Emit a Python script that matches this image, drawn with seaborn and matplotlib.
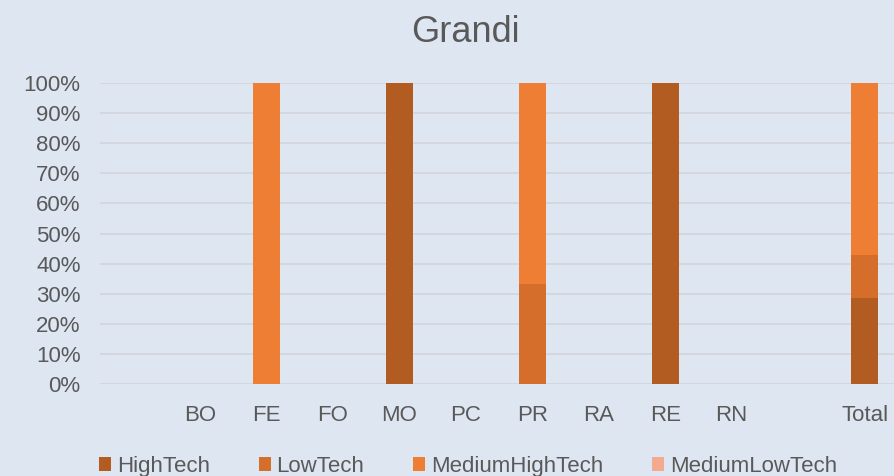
import numpy as np
import pandas as pd
import matplotlib
matplotlib.use("Agg")
import matplotlib.pyplot as plt
import seaborn as sns
from matplotlib.patches import Patch
from matplotlib.ticker import PercentFormatter

# categories ("" and " " are the empty slots in the original chart)
categories = ["", "BO", "FE", "FO", "MO", "PC", "PR", "RA", "RE", "RN", " ", "Total"]
high_tech = [0, 0, 0, 0, 100, 0, 0, 0, 100, 0, 0, 28.57]
low_tech = [0, 0, 0, 0, 0, 0, 33.33, 0, 0, 0, 0, 14.29]
medium_high_tech = [0, 0, 100, 0, 0, 0, 66.67, 0, 0, 0, 0, 57.14]
medium_low_tech = [0, 0, 0, 0, 0, 0, 0, 0, 0, 0, 0, 0]

series_names = ["HighTech", "LowTech", "MediumHighTech", "MediumLowTech"]
series_colors = ["#B35C22", "#D46E2A", "#EE7E33", "#F4AA8E"]

df = pd.DataFrame({"cat": categories,
                   "HighTech": high_tech,
                   "LowTech": low_tech,
                   "MediumHighTech": medium_high_tech,
                   "MediumLowTech": medium_low_tech})

# cumulative tops for stacking
cum = df[series_names].cumsum(axis=1)

bg = "#DEE6F2"
text_col = "#595959"

sns.set_style("white")
plt.rcParams["font.family"] = ["Liberation Sans", "DejaVu Sans"]

fig = plt.figure(figsize=(8.94, 4.76), dpi=100, facecolor=bg)
ax = fig.add_axes([100 / 894, 1 - 384 / 476, 794 / 894, 301 / 476])
ax.set_facecolor(bg)

# draw from the top series down so lower segments overlay upper ones
for name, color in reversed(list(zip(series_names, series_colors))):
    sns.barplot(x=df["cat"], y=cum[name], order=categories, color=color,
                width=0.41, saturation=1, ax=ax, linewidth=0, zorder=3)

ax.set_ylim(0, 100)
ax.set_xlim(-0.5, 11.44)
ax.set_yticks(np.arange(0, 101, 10))
ax.yaxis.set_major_formatter(PercentFormatter(decimals=0))
ax.grid(axis="y", color="#D3D6DB", linewidth=1.2, zorder=0)
ax.set_axisbelow(True)
for s in ax.spines.values():
    s.set_visible(False)
ax.tick_params(axis="both", length=0, labelsize=16, labelcolor=text_col)
ax.tick_params(axis="y", pad=14)
ax.tick_params(axis="x", pad=15)
ax.set_xlabel("")
ax.set_ylabel("")

fig.text(0.52, 0.932, "Grandi", ha="center", va="center", fontsize=26, color=text_col)

handles = [Patch(facecolor=c, edgecolor="none") for c in series_colors]
fig.legend(handles, series_names, loc="center", bbox_to_anchor=(0.5235, 0.02),
           ncol=4, frameon=False, fontsize=16, labelcolor=text_col,
           handlelength=0.55, handleheight=0.55, handletextpad=0.25,
           columnspacing=2.2)

fig.savefig("out.png", dpi=100, facecolor=bg)
